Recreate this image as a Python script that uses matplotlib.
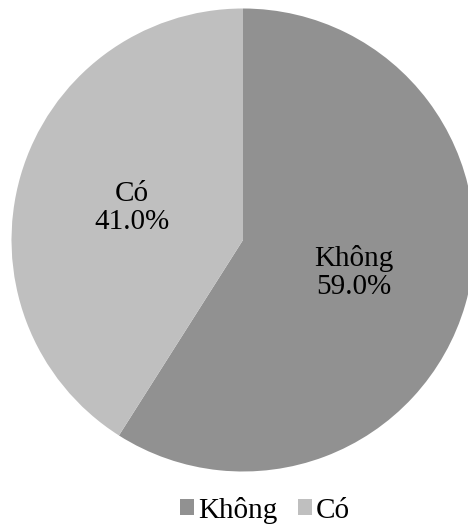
import matplotlib.pyplot as plt

labels = ['Không', 'Có']
values = [59.0, 41.0]
colors = ['#919191', '#bfbfbf']

plt.rcParams['font.family'] = ['Liberation Serif', 'DejaVu Serif']

fig = plt.figure(figsize=(4.68, 5.27), dpi=100)
ax = fig.add_axes([0, 0, 1, 1])

names = iter(labels)
wedges, texts, autotexts = ax.pie(values, colors=colors, startangle=90, counterclock=False,
                                  radius=1, pctdistance=0.5,
                                  autopct=lambda p: f"{next(names)}\n{p:.1f}%",
                                  textprops={'fontsize': 21, 'color': 'black'})
for t in autotexts:
    t.set_linespacing(1.1)

r = 231.5
cx, cy = 243, 240
ax.set_xlim(-cx / r, (468 - cx) / r)
ax.set_ylim(-(527 - cy) / r, cy / r)
ax.set_aspect('equal')
ax.axis('off')

fig.legend(wedges, labels, loc='center', bbox_to_anchor=(265 / 468, 1 - 510 / 527), ncol=2,
           frameon=False, fontsize=21, handlelength=0.48, handleheight=0.48,
           handletextpad=0.15, columnspacing=0.7, borderpad=0)

plt.savefig('out.png', dpi=100)
